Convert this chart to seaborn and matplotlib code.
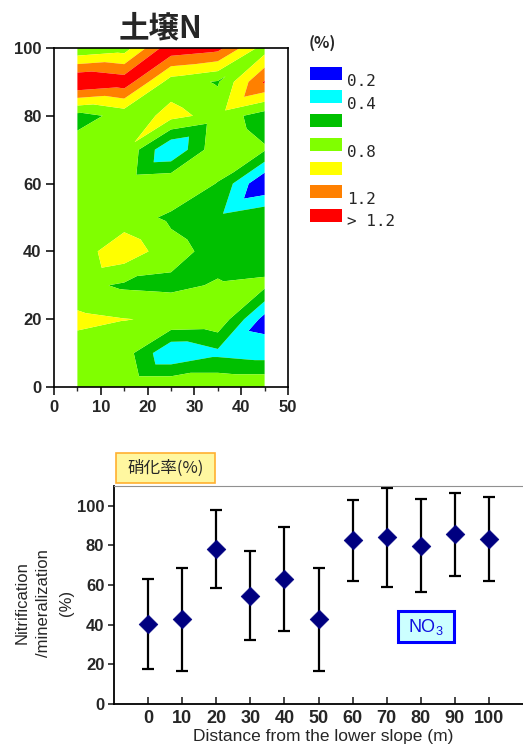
import numpy as np
import pandas as pd
import matplotlib
matplotlib.use("Agg")
import matplotlib.pyplot as plt
import matplotlib.tri as mtri
from matplotlib.patches import Rectangle
import seaborn as sns

# ---------------- data: soil N contour (top) ----------------
grid_x = [5, 15, 25, 35, 45]
grid_y = [0, 10, 20, 30, 40, 50, 60, 70, 80, 90, 100]
soil_n = [
    [0.76, 0.78, 0.78, 0.78, 0.78],   # y=0
    [0.70, 0.70, 0.21, 0.35, 0.30],   # y=10
    [0.85, 0.805, 0.78, 0.76, 0.12],  # y=20
    [0.66, 0.57, 0.55, 0.62, 0.65],   # y=30
    [0.70, 0.93, 0.68, 0.52, 0.45],   # y=40
    [0.70, 0.70, 0.56, 0.45, 0.59],   # y=50
    [0.70, 0.74, 0.78, 0.59, 0.00],   # y=60
    [0.69, 0.78, 0.20, 0.76, 0.62],   # y=70
    [0.53, 0.66, 0.87, 0.72, 0.50],   # y=80
    [1.42, 1.33, 0.70, 0.58, 1.22],   # y=90
    [0.62, 0.70, 1.35, 1.27, 0.70],   # y=100
]
levels = [-1.0, 0.2, 0.4, 0.6, 0.8, 1.0, 1.2, 5.0]
level_colors = ["#0000FF", "#00FFFF", "#00C000", "#80FF00", "#FFFF00", "#FF8000", "#FF0000"]
legend_labels = ["0.2", "0.4", "", "0.8", "", "1.2", "> 1.2"]

# ---------------- data: nitrification ratio (bottom) ----------------
distance = [0, 10, 20, 30, 40, 50, 60, 70, 80, 90, 100]
nitrif = [40.3, 42.7, 78.2, 54.5, 63.0, 42.7, 82.4, 83.9, 79.7, 85.5, 83.2]
nitrif_sd = [22.5, 26.0, 19.5, 22.5, 26.0, 26.0, 20.5, 25.0, 23.5, 21.0, 21.0]

sns.set_style("ticks")
plt.rcParams["font.family"] = ["Liberation Sans", "Noto Sans CJK JP", "DejaVu Sans"]
plt.rcParams["mathtext.fontset"] = "custom"
plt.rcParams["mathtext.rm"] = "Liberation Sans"
plt.rcParams["mathtext.default"] = "rm"

W, H = 523, 746
fig = plt.figure(figsize=(W / 100, H / 100), dpi=100)

def fx(px):
    return px / W

def fy(py):
    return 1 - py / H

# ---------------- top panel ----------------
ax1 = fig.add_axes([fx(54), fy(387), (288 - 54) / W, (387 - 48) / H])
X, Y = np.meshgrid(grid_x, grid_y)
Z = np.array(soil_n)
nx, ny = len(grid_x), len(grid_y)
tris = []
for j in range(ny - 1):
    for i in range(nx - 1):
        a = j * nx + i
        b = a + 1
        c = a + nx
        d = c + 1
        tris.append([a, b, d])
        tris.append([a, d, c])
tri = mtri.Triangulation(X.ravel(), Y.ravel(), tris)
ax1.tricontourf(tri, Z.ravel(), levels=levels, colors=level_colors, antialiased=True)
ax1.set_xlim(0, 50)
ax1.set_ylim(0, 100)
ax1.set_xticks(range(0, 51, 10))
ax1.set_xticks(range(5, 50, 10), minor=True)
ax1.set_yticks(range(0, 101, 20))
for s in ax1.spines.values():
    s.set_linewidth(1.2)
    s.set_color("black")
ax1.tick_params(which="major", direction="out", length=6, width=1.3, labelsize=12, pad=3)
ax1.tick_params(which="minor", direction="out", length=3, width=1.0)
for lab in ax1.get_xticklabels() + ax1.get_yticklabels():
    lab.set_fontweight("bold")

fig.text(fx(160), fy(28), "土壌N", ha="center", va="center", fontsize=22,
         fontweight="bold", family=["Noto Sans CJK JP", "DejaVu Sans"])

# legend for contour levels
fig.text(fx(309), fy(43), "(%)", ha="left", va="center", fontsize=11.5,
         fontweight="bold", family=["Noto Sans CJK JP", "DejaVu Sans"])
box_tops = [67, 90, 114, 138, 162, 185, 209]
label_y = [81.5, 104.5, None, 152.5, None, 199.5, 222]
for top, col, lab, ly in zip(box_tops, level_colors, legend_labels, label_y):
    fig.add_artist(Rectangle((fx(310), fy(top + 13)), 32 / W, 13 / H,
                             transform=fig.transFigure, facecolor=col, edgecolor="none"))
    if lab:
        fig.text(fx(347), fy(ly), lab, ha="left", va="center", fontsize=11.5,
                 family=["DejaVu Sans Mono"])

# ---------------- bottom panel ----------------
ax2 = fig.add_axes([fx(114), fy(704), (523 - 114) / W, (704 - 485.7) / H])
df = pd.DataFrame({"distance": distance, "nitrif": nitrif, "sd": nitrif_sd})
ax2.errorbar(df["distance"], df["nitrif"], yerr=df["sd"], fmt="none", ecolor="black",
             elinewidth=1.6, capsize=4, capthick=1.6, zorder=2)
sns.scatterplot(data=df, x="distance", y="nitrif", marker="D", color="#000080",
                s=90, edgecolor="#000080", linewidth=0.5, zorder=3, ax=ax2, legend=False)
ax2.set_xlim(-10, 110)
ax2.set_ylim(0, 110)
ax2.set_xticks(distance)
ax2.set_yticks(range(0, 101, 20))
ax2.spines["right"].set_visible(False)
ax2.spines["top"].set_color("#909090")
ax2.spines["top"].set_linewidth(0.8)
for k in ("left", "bottom"):
    ax2.spines[k].set_linewidth(1.3)
    ax2.spines[k].set_color("black")
ax2.tick_params(axis="y", direction="out", length=4, width=1.2, labelsize=12, pad=3)
ax2.tick_params(axis="x", direction="in", length=5, width=1.2, labelsize=13, pad=4)
for lab in ax2.get_xticklabels() + ax2.get_yticklabels():
    lab.set_fontweight("bold")
ax2.set_xlabel("Distance from the lower slope (m)", fontsize=12.5)
ax2.xaxis.set_label_coords((323 - 114) / 409, (704 - 729) / 218.3)
ax2.set_ylabel("Nitrification\n/mineralization\n(%)", fontsize=12, linespacing=1.6,
               ha="center", va="center")
ax2.yaxis.set_label_coords((44 - 114) / 409, (704 - 603) / 218.3)

# annotation boxes
fig.add_artist(Rectangle((fx(116), fy(483)), 99 / W, 30 / H, transform=fig.transFigure,
                         facecolor="#FFF7A0", edgecolor="#FFB030", linewidth=1.2))
fig.text(fx(165.5), fy(468), "硝化率(%)", ha="center", va="center", fontsize=12,
         family=["Noto Sans CJK JP", "DejaVu Sans"])
fig.add_artist(Rectangle((fx(398), fy(642)), 56 / W, 31 / H, transform=fig.transFigure,
                         facecolor="#CCFFFF", edgecolor="#0000FF", linewidth=2.2))
fig.text(fx(426), fy(627), "NO$_3$", ha="center", va="center", fontsize=13,
         color="#1010E0")

fig.savefig("out.png", dpi=100)
